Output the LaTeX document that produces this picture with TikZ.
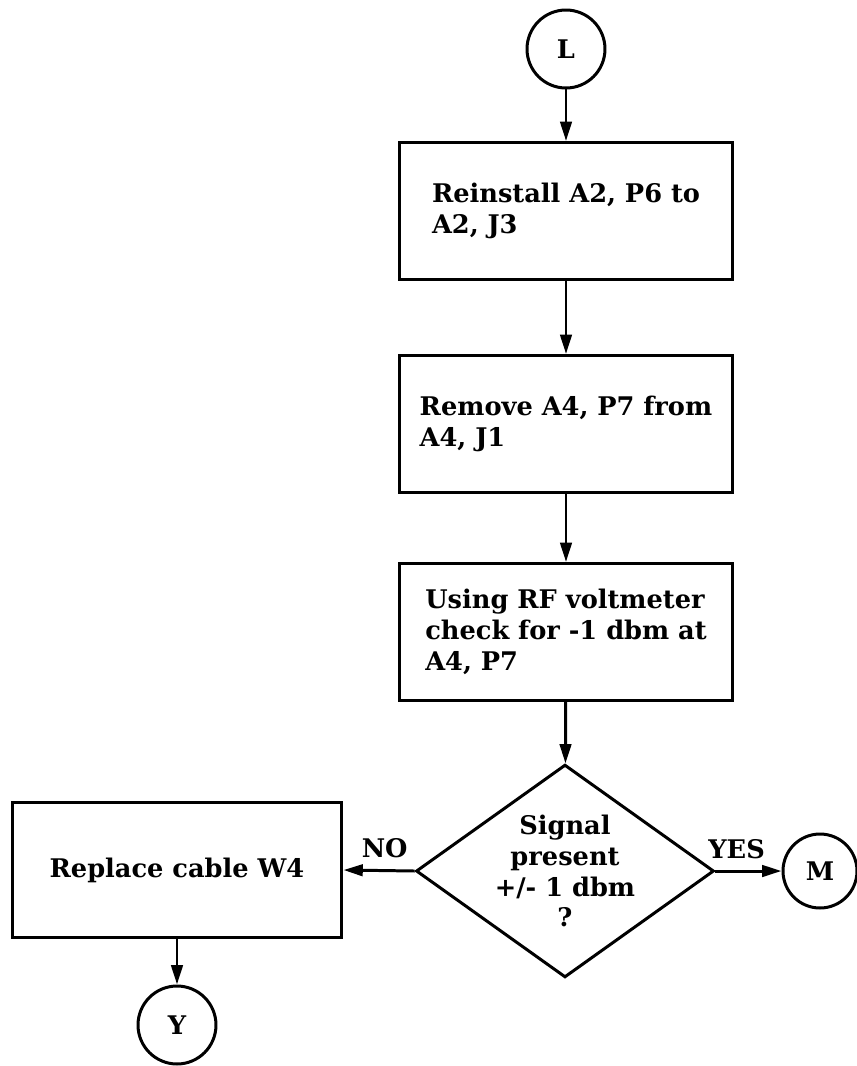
\documentclass[tikz,border=0pt]{standalone}
\usepackage{fontspec}
\setmainfont{DejaVu Serif}
\usetikzlibrary{shapes.geometric,arrows.meta}

\begin{document}
\begin{tikzpicture}[x=0.02cm,y=-0.02cm,line width=1.7pt,
  font=\bfseries\fontsize{14.6}{17.6}\selectfont,
  flowbox/.style={draw,rectangle,align=left,inner sep=0pt,minimum width=6.66cm,minimum height=2.74cm},
  conn/.style={draw,circle,inner sep=0pt,minimum size=1.56cm},
  query/.style={draw,diamond,align=center,inner sep=0pt,shape aspect=1.4,minimum width=5.74cm,minimum height=4.04cm},
  flow/.style={-{Triangle[length=11pt,width=6.5pt]}}]
\useasboundingbox (0,0) rectangle (857,1066);
\node[conn] (L) at (566,49) {L};
\node[flowbox] (reinst) at (566,211) {Reinstall A2, P6 to\\A2, J3};
\node[flowbox] (remove) at (566,424) {Remove A4, P7 from\\A4, J1};
\node[flowbox] (measure) at (566,632) {Using RF voltmeter\\check for -1 dbm at\\A4, P7};
\node[query] (sig) at (565,871) {Signal\\present\\+/- 1 dbm\\?};
\node[flowbox,align=center,minimum width=6.6cm,minimum height=2.7cm] (repl) at (177,870) {Replace cable W4};
\node[conn,minimum size=1.48cm] (M) at (820,871) {M};
\node[conn] (Y) at (177,1025) {Y};
\draw[flow] (L) -- (reinst);
\draw[flow] (reinst) -- (remove);
\draw[flow] (remove) -- (measure);
\draw[flow] (measure) -- (sig);
\draw[flow] (sig.west) -- node[above=3pt,pos=0.42] (no) {NO} (repl.east);
\draw[flow] (sig.east) -- node[above=3pt,pos=0.32] (yes) {YES} (M);
\draw[flow] (repl) -- (Y);
\end{tikzpicture}
\end{document}
